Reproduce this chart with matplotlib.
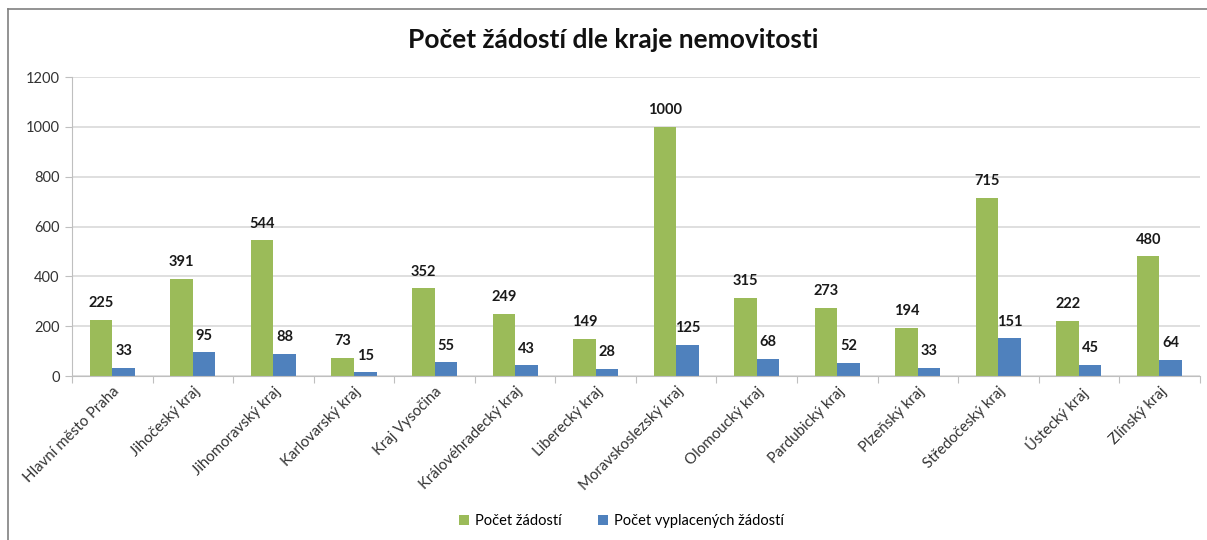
import numpy as np
import matplotlib
matplotlib.use('Agg')
import matplotlib.pyplot as plt
from matplotlib.lines import Line2D

plt.rcParams['font.family'] = ['Lato', 'DejaVu Sans']

kraje = ['Hlavní město Praha', 'Jihočeský kraj', 'Jihomoravský kraj', 'Karlovarský kraj',
         'Kraj Vysočina', 'Královéhradecký kraj', 'Liberecký kraj', 'Moravskoslezský kraj',
         'Olomoucký kraj', 'Pardubický kraj', 'Plzeňský kraj', 'Středočeský kraj',
         'Ústecký kraj', 'Zlínský kraj']
zadosti = [225, 391, 544, 73, 352, 249, 149, 1000, 315, 273, 194, 715, 222, 480]
vyplacene = [33, 95, 88, 15, 55, 43, 28, 125, 68, 52, 33, 151, 45, 64]

green = '#9bbb59'
blue = '#4f81bd'

fig = plt.figure(figsize=(12.07, 5.40), dpi=100)
ax = fig.add_axes([0.0597, 0.3037, 0.9343, 0.5537])

x = np.arange(len(kraje))
w = 0.28
b1 = ax.bar(x - w / 2, zadosti, w, color=green, label='Počet žádostí')
b2 = ax.bar(x + w / 2, vyplacene, w, color=blue, label='Počet vyplacených žádostí')

for bars in (b1, b2):
    for r in bars:
        ax.annotate('%d' % r.get_height(), (r.get_x() + r.get_width() / 2, r.get_height()),
                    xytext=(0, 7), textcoords='offset points', ha='center', va='bottom',
                    fontsize=10.5, fontweight='bold', color='#1a1a1a')

ax.set_xlim(-0.5, len(kraje) - 0.5)
ax.set_ylim(0, 1200)
ax.set_yticks(np.arange(0, 1201, 200))
ax.yaxis.grid(True, color='#d9d9d9', linewidth=1.2)
ax.set_axisbelow(True)
for s in ('top', 'right'):
    ax.spines[s].set_visible(False)
ax.spines['left'].set_color('#bfbfbf')
ax.spines['bottom'].set_color('#bfbfbf')
ax.tick_params(axis='y', length=5, color='#bfbfbf', labelsize=10.5, labelcolor='#333333', pad=4)

# category ticks sit between the groups, labels at the centres
ax.set_xticks(np.arange(len(kraje) + 1) - 0.5)
ax.set_xticklabels([])
ax.tick_params(axis='x', length=5, color='#bfbfbf')
ax.set_xticks(x, minor=True)
ax.set_xticklabels(kraje, minor=True, rotation=45, ha='right', rotation_mode='anchor',
                   fontsize=10.8, color='#333333')
ax.tick_params(axis='x', which='minor', length=0, pad=6)

fig.text(0.508, 0.925, 'Počet žádostí dle kraje nemovitosti', ha='center', va='center',
         fontsize=19, fontweight='bold', color='#111111')

fig.legend(handles=[b1, b2], loc='center', bbox_to_anchor=(0.515, 0.035), ncol=2,
           frameon=False, fontsize=10.5, handlelength=0.7, handleheight=0.7,
           columnspacing=2.5, handletextpad=0.4)

# outer chart border (left and top are visible in the crop)
fig.add_artist(Line2D([8 / 1207, 8 / 1207], [0, 1 - 9 / 540], transform=fig.transFigure,
                      color='#808080', linewidth=1.2))
fig.add_artist(Line2D([8 / 1207, 1], [1 - 9 / 540, 1 - 9 / 540], transform=fig.transFigure,
                      color='#808080', linewidth=1.2))

fig.savefig('out.png', dpi=100)
